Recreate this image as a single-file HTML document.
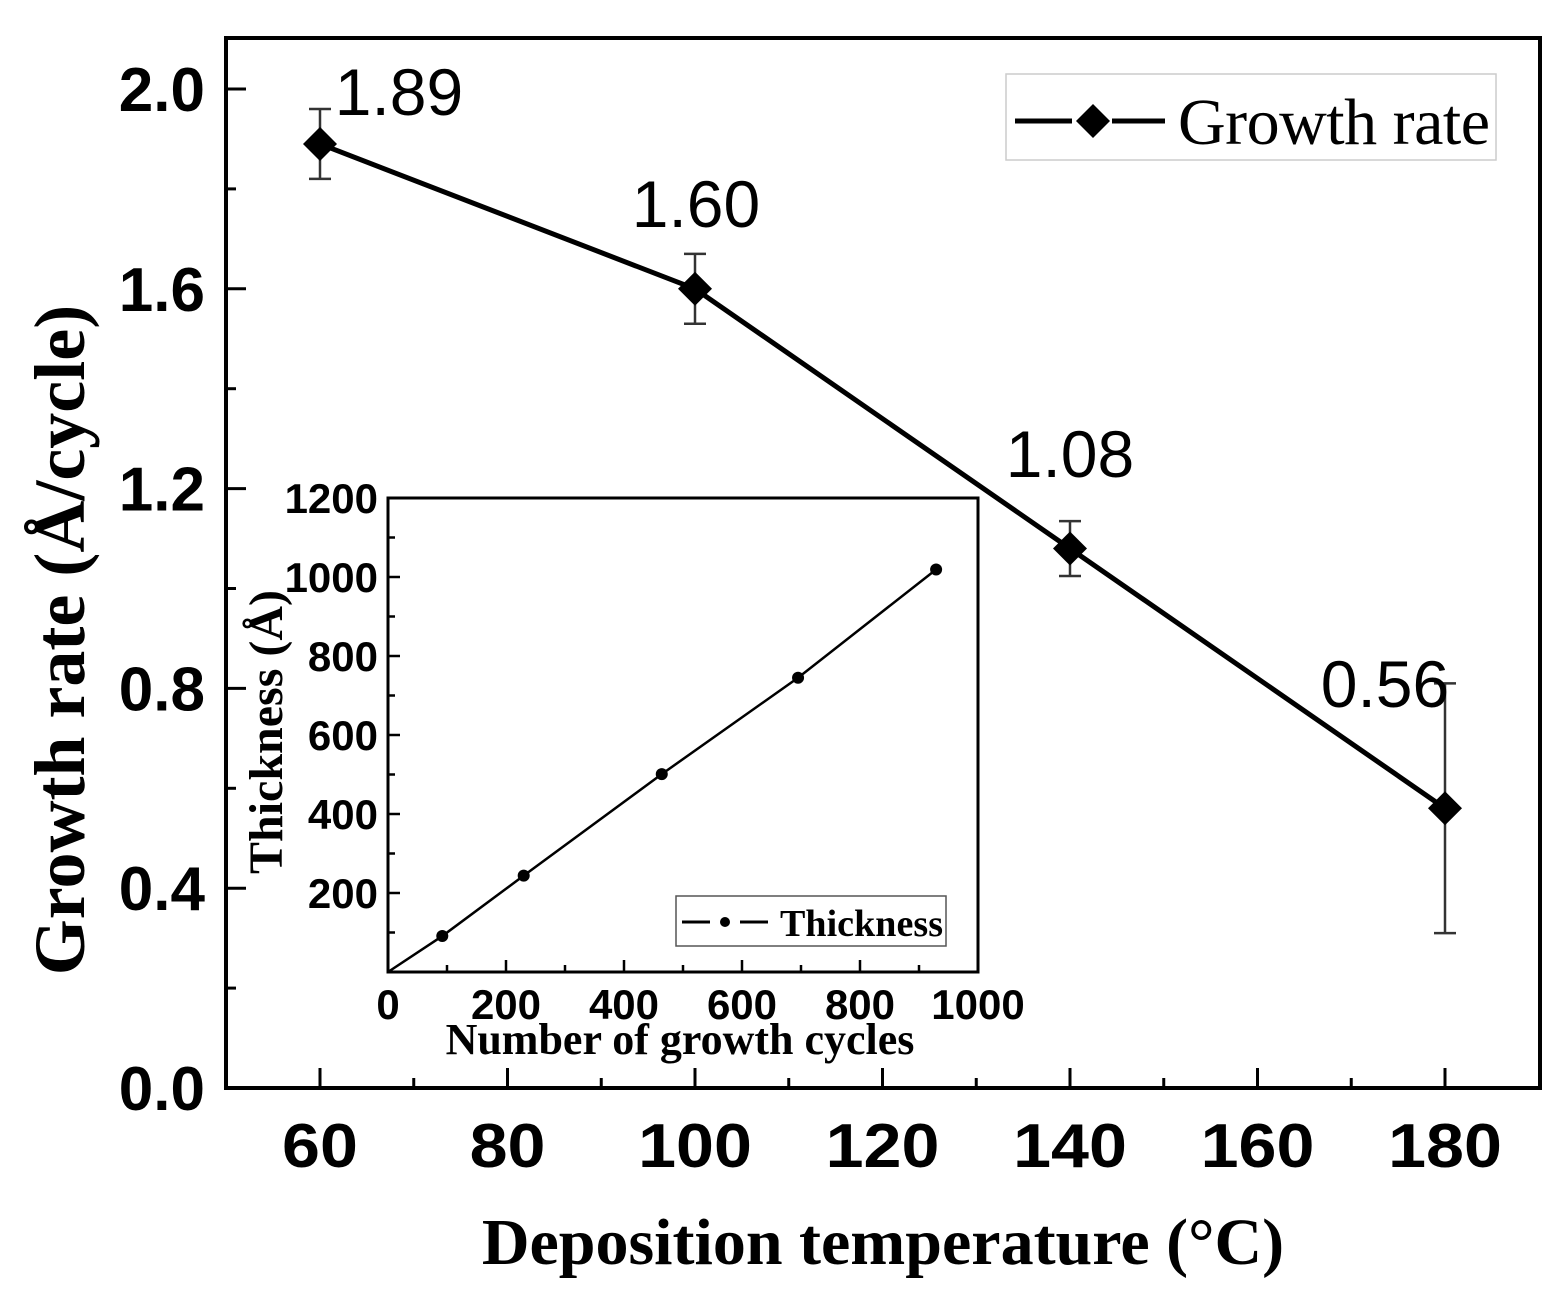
<!DOCTYPE html>
<html><head><meta charset="utf-8">
<style>
html,body{margin:0;padding:0;background:#fff;}
svg{display:block;}
.sans{font-family:"Liberation Sans",Arial,sans-serif;}
.serif{font-family:"Liberation Serif","Times New Roman",serif;}
</style></head>
<body>
<svg id="chart" width="1568" height="1299" viewBox="0 0 1568 1299" xmlns="http://www.w3.org/2000/svg">
<g id="main"></g>
<g id="inset"></g>
</svg>
<script>
// Main chart data
const temps = [60, 100, 140, 180];
const rates = [1.89, 1.60, 1.08, 0.56];
const rateErr = [0.07, 0.07, 0.055, 0.25];
const rateLabels = ["1.89", "1.60", "1.08", "0.56"];
const xTicks = [60, 80, 100, 120, 140, 160, 180];
const yTicks = [0.0, 0.4, 0.8, 1.2, 1.6, 2.0];
// Inset data
const cycles = [92, 230, 464, 695, 929];
const thickness = [91, 244, 501, 745, 1019];
const insetXTicks = [0, 200, 400, 600, 800, 1000];
const insetYTicks = [200, 400, 600, 800, 1000, 1200];

const NS = "http://www.w3.org/2000/svg";
function mk(parent, tag, attrs, text) {
  const e = document.createElementNS(NS, tag);
  for (const k in attrs) e.setAttribute(k, attrs[k]);
  if (text !== undefined) e.textContent = text;
  parent.appendChild(e);
  return e;
}

const L = 226, R = 1540, T = 38, B = 1088;
const xS = v => 320 + (v - 60) * (1445 - 320) / 120;
const yS = v => 1088 - v * 499.5;
const main = document.getElementById('main');

let frame = mk(main, 'rect', {x: L, y: T, width: R - L, height: B - T, fill: 'none', stroke: '#000', 'stroke-width': 4});



for (let v = 50; v <= 190; v += 10) {
  const x = xS(v);
  if (x <= L + 2 || x >= R - 2) continue;
  const major = (v % 20 === 0);
  const t = mk(main, 'line', {x1: x, x2: x, y1: B, y2: B - (major ? 20 : 10), stroke: '#000', 'stroke-width': 3});
  
  
}
xTicks.forEach(v => {
  const t = mk(main, 'text', {x: xS(v), y: 1167, 'text-anchor': 'middle', 'font-size': 62, 'font-weight': 'bold', class: 'sans', transform: `translate(${xS(v)},0) scale(1.1,1) translate(${-xS(v)},0)`}, String(v));
  
  
});
for (let i = 0; i <= 10; i++) {
  const v = i * 0.2;
  const y = yS(v);
  if (y >= B - 1) continue;
  const major = (i % 2 === 0);
  const t = mk(main, 'line', {x1: L, x2: L + (major ? 20 : 10), y1: y, y2: y, stroke: '#000', 'stroke-width': 3});
  
  
}
yTicks.forEach(v => {
  const t = mk(main, 'text', {x: 205, y: yS(v) + 22, 'text-anchor': 'end', 'font-size': 62, 'font-weight': 'bold', class: 'sans'}, v.toFixed(1));
  
  
});
let xt = mk(main, 'text', {x: 883, y: 1264, 'text-anchor': 'middle', 'font-size': 66, 'font-weight': 'bold', class: 'serif'}, 'Deposition temperature (°C)');


let yt = mk(main, 'text', {x: 0, y: 0, transform: 'translate(84,640) rotate(-90)', 'text-anchor': 'middle', 'font-size': 72, 'font-weight': 'bold', class: 'serif'}, 'Growth rate (Å/cycle)');



let pts = temps.map((t, i) => xS(t) + ',' + yS(rates[i])).join(' ');
let pl = mk(main, 'polyline', {points: pts, fill: 'none', stroke: '#000', 'stroke-width': 5});


temps.forEach((t, i) => {
  const x = xS(t), y = yS(rates[i]);
  const yh = yS(rates[i] + rateErr[i]), yl = yS(rates[i] - rateErr[i]);
  const g = mk(main, 'g', {});
  
  
  mk(g, 'line', {x1: x, x2: x, y1: yh, y2: yl, stroke: '#333', 'stroke-width': 2.5});
  mk(g, 'line', {x1: x - 11, x2: x + 11, y1: yh, y2: yh, stroke: '#333', 'stroke-width': 2.5});
  mk(g, 'line', {x1: x - 11, x2: x + 11, y1: yl, y2: yl, stroke: '#333', 'stroke-width': 2.5});
  mk(g, 'polygon', {points: `${x},${y - 17} ${x + 17},${y} ${x},${y + 17} ${x - 17},${y}`, fill: '#000'});
  const lx = [399, 696, 1070, 1385][i], ly = [115, 227, 477, 707][i];
  const lb = mk(main, 'text', {x: lx, y: ly, 'text-anchor': 'middle', 'font-size': 66, class: 'sans'}, rateLabels[i]);
  
  
});

const lg = mk(main, 'g', {});


mk(lg, 'rect', {x: 1006, y: 74, width: 490, height: 86, fill: '#fff', stroke: '#ccc', 'stroke-width': 1.5});
mk(lg, 'line', {x1: 1015, x2: 1072, y1: 121, y2: 121, stroke: '#000', 'stroke-width': 5});
mk(lg, 'line', {x1: 1112, x2: 1165, y1: 121, y2: 121, stroke: '#000', 'stroke-width': 5});
mk(lg, 'polygon', {points: '1093,104 1110,121 1093,138 1076,121', fill: '#000'});
mk(lg, 'text', {x: 1178, y: 144, 'font-size': 66, class: 'serif', textLength: 312}, 'Growth rate');

const inset = document.getElementById('inset');
const iL = 388, iR = 978, iT = 498, iB = 972;
const ixS = v => iL + v * (iR - iL) / 1000;
const iyS = v => iB - v * (iB - iT) / 1200;
let ibg = mk(inset, 'rect', {x: iL, y: iT, width: iR - iL, height: iB - iT, fill: '#fff', stroke: '#000', 'stroke-width': 3});


for (let v = 100; v < 1000; v += 100) {
  const major = v % 200 === 0;
  const t = mk(inset, 'line', {x1: ixS(v), x2: ixS(v), y1: iB, y2: iB - (major ? 12 : 7), stroke: '#000', 'stroke-width': 2.5});
  
  
}
for (let v = 100; v < 1200; v += 100) {
  const major = v % 200 === 0;
  const t = mk(inset, 'line', {x1: iL, x2: iL + (major ? 12 : 7), y1: iyS(v), y2: iyS(v), stroke: '#000', 'stroke-width': 2.5});
  
  
}
insetXTicks.forEach(v => {
  const t = mk(inset, 'text', {x: ixS(v), y: 1019, 'text-anchor': 'middle', 'font-size': 42, 'font-weight': 'bold', class: 'sans'}, String(v));
  
  
});
insetYTicks.forEach(v => {
  const t = mk(inset, 'text', {x: 378, y: iyS(v) + 15, 'text-anchor': 'end', 'font-size': 42, 'font-weight': 'bold', class: 'sans'}, String(v));
  
  
});
let ixt = mk(inset, 'text', {x: 680, y: 1054, 'text-anchor': 'middle', 'font-size': 44, 'font-weight': 'bold', class: 'serif'}, 'Number of growth cycles');


let iyt = mk(inset, 'text', {x: 0, y: 0, transform: 'translate(282,732) rotate(-90)', 'text-anchor': 'middle', 'font-size': 48, 'font-weight': 'bold', class: 'serif'}, 'Thickness (Å)');


let ipts = [ixS(0) + ',' + iyS(0)].concat(cycles.map((c, i) => ixS(c) + ',' + iyS(thickness[i]))).join(' ');
let ipl = mk(inset, 'polyline', {points: ipts, fill: 'none', stroke: '#000', 'stroke-width': 2.5});


cycles.forEach((c, i) => {
  const d = mk(inset, 'circle', {cx: ixS(c), cy: iyS(thickness[i]), r: 6, fill: '#000'});
  
  
});
const ilg = mk(inset, 'g', {});


mk(ilg, 'rect', {x: 676, y: 896, width: 270, height: 50, fill: '#fff', stroke: '#555', 'stroke-width': 1.5});
mk(ilg, 'line', {x1: 682, x2: 710, y1: 922, y2: 922, stroke: '#000', 'stroke-width': 3});
mk(ilg, 'line', {x1: 740, x2: 768, y1: 922, y2: 922, stroke: '#000', 'stroke-width': 3});
mk(ilg, 'circle', {cx: 725, cy: 922, r: 5, fill: '#000'});
mk(ilg, 'text', {x: 780, y: 936, 'font-size': 38, 'font-weight': 'bold', class: 'serif', textLength: 163}, 'Thickness');
</script>
</body></html>
